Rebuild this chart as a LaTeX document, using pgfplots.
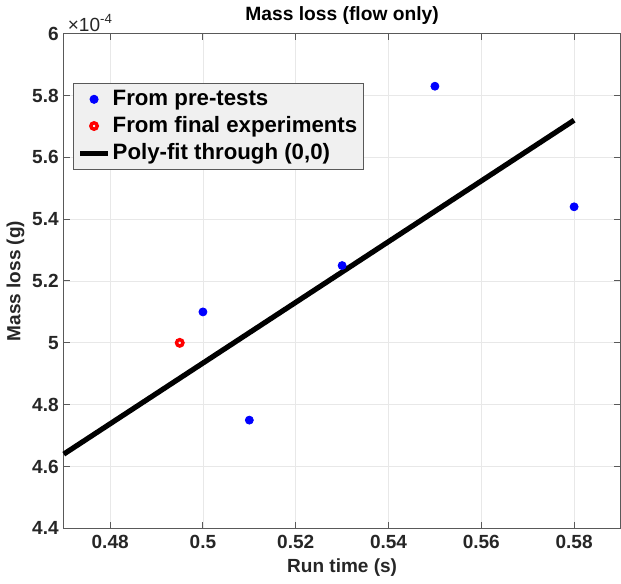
\documentclass[border=0pt]{standalone}
\usepackage{fontspec}
\setmainfont{Liberation Sans}
\usepackage{pgfplots}
\pgfplotsset{compat=1.18}
\definecolor{axgray}{RGB}{38,38,38}
\definecolor{leggray}{RGB}{240,240,240}
\pgfplotsset{
  markleg/.style={legend image code/.code={\draw[mark repeat=2,mark phase=2,##1] plot coordinates {(0pt,0pt) (7pt,0pt) (14pt,0pt)};}},
  lineleg/.style={legend image code/.code={\draw[##1] (0pt,0pt) -- (14pt,0pt);}},
}
\begin{document}
\begin{tikzpicture}
\begin{axis}[
  scale only axis, width=278pt, height=247pt,
  xmin=0.47, xmax=0.59, ymin=4.4, ymax=6,
  xtick={0.48,0.5,0.52,0.54,0.56,0.58},
  ytick={4.4,4.6,4.8,5,5.2,5.4,5.6,5.8,6},
  grid=major, grid style={gray!18, line width=0.4pt},
  axis line style={gray!70!black, line width=0.5pt},
  tick style={gray!70!black, line width=0.5pt},
  tick align=inside, major tick length=3pt,
  xtick pos=both, ytick pos=both,
  /pgf/number format/assume math mode=true,
  tick label style={font=\bfseries\fontsize{9.5}{10}\selectfont, text=axgray},
  yticklabel style={xshift=1pt},
  xlabel={Run time (s)}, ylabel={Mass loss (g)},
  label style={font=\bfseries\fontsize{9.5}{11}\selectfont, text=axgray},
  xlabel style={yshift=2pt},
  ylabel style={yshift=-3pt},
  title={Mass loss (flow only)},
  title style={font=\bfseries\fontsize{9.6}{10}\selectfont, yshift=-5pt},
  legend style={at={(rel axis cs:0.0165,0.901)}, anchor=north west,
    fill=leggray, draw=gray!70!black, line width=0.5pt,
    font=\bfseries\fontsize{11.1}{13.6}\selectfont, row sep=0pt,
    inner xsep=2pt, inner ysep=1.5pt, nodes={inner xsep=1pt}},
  legend cell align=left,
  clip=false,
]
\addplot[only marks, mark=*, mark size=2pt, color=blue, draw=blue, fill=blue, markleg]
  coordinates {(0.50,5.10) (0.51,4.75) (0.53,5.25) (0.55,5.83) (0.58,5.44)};
\addlegendentry{From pre-tests}
\addplot[only marks, mark=o, mark size=1.6pt, color=red, mark options={line width=1.7pt, fill=white}, markleg]
  coordinates {(0.495,5.00)};
\addlegendentry{From final experiments}
\addplot[black, line width=2.6pt, lineleg]
  coordinates {(0.47,4.64) (0.58,5.72)};
\addlegendentry{Poly-fit through (0,0)}
\node[anchor=south west, font=\fontsize{9.5}{10}\selectfont, text=axgray, inner sep=1pt]
  at (rel axis cs:0.003,1) {×10\textsuperscript{-4}};
\end{axis}
\end{tikzpicture}
\end{document}
